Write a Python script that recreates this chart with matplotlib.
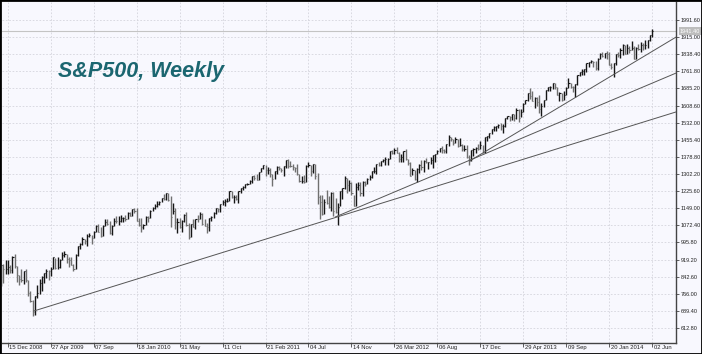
import matplotlib
matplotlib.use("Agg")
import matplotlib.pyplot as plt
import matplotlib.transforms as mtrans
from matplotlib.patches import Rectangle
import numpy as np

# ---------------- data (weekly bars, first bar = week of 24 Nov 2008) ----------------
first_week = -3   # week index 0 = 15 Dec 2008
week_high = [
    # 2008
    896, 898, 918, 918, 895, 934,
    # 2009
    943, 891, 852, 877, 870, 878, 827, 780, 736, 758, 804, 832, 845, 857, 875, 871, 888,
    930, 925, 930, 920, 951, 956, 946, 929, 931, 899, 943, 980, 993, 1018, 1012, 1035, 1040,
    1028, 1049, 1074, 1080, 1065, 1073, 1101, 1102, 1091, 1072, 1106, 1113, 1113, 1119, 1108,
    1120, 1130, 1130,
    # 2010
    1146, 1150, 1150, 1104, 1104, 1080, 1112, 1112, 1139, 1153, 1170, 1180, 1181, 1195, 1214,
    1219, 1219, 1205, 1173, 1148, 1105, 1105, 1095, 1121, 1131, 1082, 1078, 1100, 1103, 1120,
    1130, 1129, 1100, 1082, 1105, 1113, 1131, 1149, 1149, 1167, 1184, 1190, 1196, 1227, 1227,
    1208, 1208, 1225, 1241, 1247, 1259, 1263,
    # 2011
    1277, 1294, 1296, 1302, 1312, 1331, 1344, 1343, 1333, 1327, 1304, 1315, 1337, 1339, 1328,
    1340, 1364, 1370, 1359, 1346, 1334, 1345, 1301, 1292, 1298, 1341, 1356, 1344, 1347, 1346,
    1307, 1208, 1208, 1190, 1230, 1204, 1220, 1220, 1195, 1171, 1225, 1239, 1293, 1285, 1277,
    1266, 1208, 1260, 1267, 1266, 1269, 1270,
    # 2012
    1284, 1297, 1316, 1334, 1345, 1354, 1362, 1368, 1378, 1374, 1407, 1409, 1419, 1422, 1399,
    1392, 1406, 1415, 1371, 1354, 1328, 1318, 1329, 1345, 1364, 1363, 1375, 1358, 1380, 1389,
    1394, 1408, 1418, 1426, 1413, 1438, 1475, 1466, 1460, 1470, 1461, 1464, 1435, 1434, 1434,
    1388, 1409, 1420, 1424, 1438, 1448, 1431, 1467,
    # 2013
    1472, 1486, 1503, 1515, 1518, 1524, 1530, 1525, 1552, 1564, 1564, 1570, 1573, 1597, 1593,
    1592, 1618, 1635, 1667, 1687, 1674, 1646, 1648, 1654, 1620, 1632, 1680, 1693, 1698, 1710,
    1709, 1693, 1670, 1663, 1672, 1690, 1730, 1711, 1695, 1707, 1745, 1761, 1772, 1771, 1799,
    1804, 1813, 1806, 1809, 1823, 1844, 1849,
    # 2014
    1843, 1851, 1850, 1798, 1798, 1841, 1847, 1867, 1884, 1878, 1883, 1875, 1897, 1873, 1869,
    1884, 1891, 1889, 1902, 1901, 1925, 1950,
]
week_low = [
    # 2008
    801, 815, 856, 855, 857, 857,
    # 2009
    880, 818, 804, 821, 812, 818, 754, 731, 667, 672, 748, 766, 779, 814, 838, 827, 847,
    875, 878, 877, 881, 916, 930, 903, 888, 894, 869, 875, 935, 965, 986, 991, 978, 1018,
    991, 1016, 1041, 1041, 1019, 1026, 1069, 1072, 1033, 1029, 1069, 1085, 1073, 1086, 1086,
    1091, 1102, 1114,
    # 2010
    1116, 1127, 1090, 1071, 1044, 1056, 1076, 1086, 1105, 1135, 1147, 1156, 1165, 1175, 1187,
    1186, 1181, 1066, 1125, 1055, 1040, 1060, 1042, 1086, 1071, 1010, 1018, 1063, 1056, 1088,
    1099, 1076, 1069, 1040, 1047, 1091, 1106, 1122, 1131, 1131, 1162, 1159, 1177, 1181, 1194,
    1173, 1185, 1174, 1218, 1232, 1240, 1251,
    # 2011
    1256, 1264, 1275, 1275, 1276, 1311, 1324, 1294, 1302, 1291, 1249, 1279, 1303, 1318, 1309,
    1295, 1331, 1330, 1333, 1318, 1311, 1299, 1268, 1262, 1262, 1267, 1333, 1295, 1305, 1282,
    1168, 1101, 1117, 1121, 1170, 1150, 1136, 1114, 1128, 1075, 1157, 1190, 1233, 1215, 1226,
    1209, 1158, 1159, 1231, 1202, 1205, 1248,
    # 2012
    1258, 1274, 1285, 1307, 1300, 1337, 1340, 1354, 1343, 1341, 1370, 1391, 1391, 1395, 1357,
    1358, 1358, 1367, 1343, 1292, 1296, 1277, 1266, 1307, 1319, 1309, 1352, 1325, 1346, 1330,
    1354, 1391, 1401, 1398, 1397, 1396, 1429, 1449, 1430, 1439, 1425, 1429, 1403, 1405, 1373,
    1343, 1359, 1385, 1398, 1411, 1416, 1398, 1398,
    # 2013
    1451, 1463, 1482, 1496, 1495, 1510, 1497, 1485, 1514, 1547, 1538, 1546, 1540, 1548, 1536,
    1556, 1581, 1614, 1627, 1636, 1630, 1598, 1608, 1577, 1560, 1604, 1632, 1672, 1676, 1681,
    1684, 1654, 1627, 1628, 1633, 1656, 1686, 1687, 1670, 1647, 1700, 1740, 1746, 1746, 1760,
    1780, 1800, 1779, 1768, 1767, 1819, 1827,
    # 2014
    1823, 1815, 1790, 1771, 1738, 1791, 1824, 1821, 1834, 1839, 1839, 1842, 1857, 1815, 1816,
    1859, 1850, 1859, 1862, 1868, 1898, 1915,
]
week_close = [
    # 2008
    896, 876, 879, 888, 872, 931,
    # 2009
    890, 850, 831, 826, 869, 827, 770, 735, 683, 756, 768, 815, 843, 857, 869, 866, 877,
    929, 882, 887, 919, 940, 946, 921, 918, 896, 879, 941, 979, 987, 1010, 1004, 1026, 1029,
    1016, 1042, 1068, 1044, 1025, 1071, 1087, 1080, 1036, 1069, 1093, 1091, 1091, 1106, 1106,
    1102, 1126, 1115,
    # 2010
    1145, 1136, 1092, 1074, 1066, 1075, 1109, 1105, 1138, 1150, 1160, 1167, 1178, 1194, 1192,
    1217, 1187, 1110, 1136, 1087, 1089, 1064, 1092, 1117, 1076, 1022, 1078, 1065, 1102, 1101,
    1122, 1079, 1071, 1065, 1105, 1110, 1126, 1149, 1147, 1166, 1177, 1183, 1183, 1225, 1199,
    1199, 1189, 1224, 1240, 1244, 1257, 1258,
    # 2011
    1272, 1293, 1283, 1276, 1311, 1329, 1343, 1320, 1321, 1304, 1279, 1314, 1332, 1328, 1320,
    1338, 1364, 1340, 1338, 1333, 1331, 1300, 1271, 1271, 1268, 1340, 1344, 1316, 1345, 1292,
    1199, 1179, 1124, 1177, 1174, 1154, 1216, 1136, 1131, 1155, 1225, 1238, 1285, 1253, 1263,
    1216, 1159, 1244, 1255, 1219, 1265, 1258,
    # 2012
    1278, 1289, 1315, 1316, 1345, 1343, 1361, 1366, 1370, 1371, 1404, 1397, 1408, 1398, 1370,
    1379, 1403, 1369, 1353, 1295, 1318, 1278, 1325, 1343, 1335, 1362, 1355, 1357, 1363, 1386,
    1391, 1406, 1418, 1411, 1406, 1438, 1466, 1460, 1441, 1461, 1429, 1433, 1412, 1414, 1380,
    1359, 1409, 1416, 1418, 1413, 1430, 1402, 1466,
    # 2013
    1472, 1486, 1503, 1513, 1518, 1520, 1516, 1518, 1551, 1561, 1556, 1569, 1553, 1588, 1555,
    1582, 1614, 1633, 1667, 1650, 1631, 1643, 1626, 1593, 1606, 1632, 1680, 1692, 1692, 1709,
    1691, 1655, 1664, 1633, 1655, 1688, 1710, 1692, 1691, 1704, 1745, 1760, 1762, 1771, 1798,
    1804, 1806, 1805, 1775, 1818, 1841, 1831,
    # 2014
    1842, 1838, 1790, 1783, 1797, 1838, 1836, 1859, 1878, 1841, 1866, 1857, 1865, 1815, 1865,
    1863, 1881, 1878, 1878, 1900, 1924, 1941.4,
]

x_tick_weeks = [0, 19, 38, 57, 76, 95, 114, 133, 152, 171, 190, 209, 228, 247, 266, 285]
x_tick_labels = ["15 Dec 2008", "27 Apr 2009", "07 Sep", "18 Jan 2010", "31 May", "11 Oct",
                 "21 Feb 2011", "04 Jul", "14 Nov", "26 Mar 2012", "06 Aug", "17 Dec",
                 "29 Apr 2013", "09 Sep", "20 Jan 2014", "02 Jun"]
y_ticks = [612.80, 689.40, 766.00, 842.60, 919.20, 995.80, 1072.40, 1149.00, 1225.60,
           1302.20, 1378.80, 1455.40, 1532.00, 1608.60, 1685.20, 1761.80, 1838.40,
           1915.00, 1991.60]

# trend lines: (start week, start price) -> (end week, end price)
trend_lines = [
    ((11.5, 689.0), (295.6, 1580.0)),
    ((144.9, 1110.0), (295.6, 1754.0)),
    ((204.5, 1362.0), (295.6, 1915.0)),
]
last_price = 1941.40
title_text = "S&P500, Weekly"

# ---------------- drawing ----------------
W, H = 702, 354
bg = "#f8f8fe"
fig = plt.figure(figsize=(W / 100, H / 100), dpi=100)
fig.patch.set_facecolor(bg)
ax = fig.add_axes([2 / W, 11 / H, 674 / W, 341 / H])
ax.set_facecolor(bg)

weeks = np.arange(len(week_high)) + first_week
hi = np.array(week_high, float)
lo = np.array(week_low, float)
cl = np.array(week_close, float)
prev = np.concatenate([[cl[0]], cl[:-1]])
cols = np.where(cl >= prev, "#161616", "#707070")

ax.vlines(weeks, lo, hi, colors=cols, linewidth=1.0, zorder=3)
ax.hlines(cl, weeks, weeks + 0.5, colors=cols, linewidth=0.8, zorder=3)

for (x0, y0), (x1, y1) in trend_lines:
    ax.plot([x0, x1], [y0, y1], color="#555555", linewidth=0.7, zorder=4)

ax.axhline(last_price, color="#c4c4c4", linewidth=0.8, zorder=2)

ax.set_xlim(-2.6, 295.6)
ax.set_ylim(545.7, 2072.2)

ax.set_xticks(x_tick_weeks)
ax.set_xticklabels(x_tick_labels)
ax.set_yticks(y_ticks)
ax.set_yticklabels([f"{v:.2f}" for v in y_ticks])
ax.yaxis.tick_right()

ax.grid(True, linestyle=(0, (2.2, 2.2)), color="#d2d2da", linewidth=0.55, zorder=1)

for s in ["left", "top"]:
    ax.spines[s].set_visible(False)
for s in ["right", "bottom"]:
    ax.spines[s].set_color("#444444")
    ax.spines[s].set_linewidth(1.0)

ax.tick_params(axis="x", direction="out", length=3, width=0.6, color="#444444",
               labelsize=4.2, pad=-1.5, labelcolor="#222222")
ax.tick_params(axis="y", direction="out", length=2, width=0.6, color="#444444",
               labelsize=4.0, pad=1.2, labelcolor="#222222")
offset = mtrans.ScaledTranslation(1.5 / 100, 0, fig.dpi_scale_trans)
for lab in ax.get_xticklabels():
    lab.set_horizontalalignment("left")
    lab.set_transform(lab.get_transform() + offset)
    lab.set_family("Liberation Sans")
for lab in ax.get_yticklabels():
    lab.set_family("Liberation Sans")

# last price box
tr = mtrans.blended_transform_factory(ax.transAxes, ax.transData)
ax.text(1.006, last_price, f"{last_price:.2f}", transform=tr, ha="left", va="center",
        fontsize=4.0, color="white", family="Liberation Sans", clip_on=False, zorder=6,
        bbox=dict(boxstyle="square,pad=0.25", facecolor="#bdbdbd", edgecolor="none"))

fig.text(58 / W, 1 - 77 / H, title_text, ha="left", va="baseline", fontsize=15.5,
         fontweight="bold", fontstyle="italic", color="#1b6670", family="Liberation Sans")

fig.add_artist(Rectangle((0, 0), 1, 1, transform=fig.transFigure, fill=False,
                         edgecolor="black", linewidth=2.0))

fig.savefig("out.png", dpi=100, facecolor=bg)
